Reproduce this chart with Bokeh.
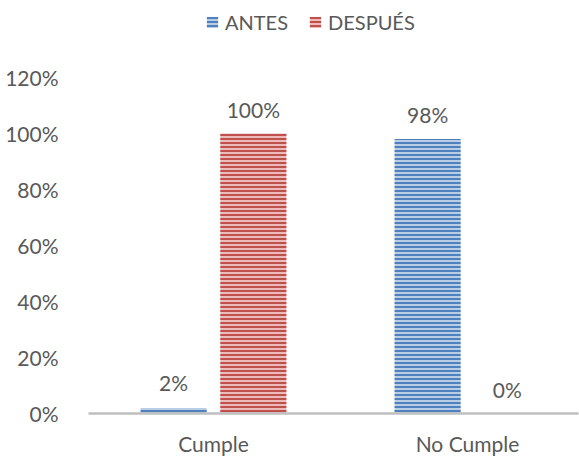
from bokeh.plotting import figure
from bokeh.models import ColumnDataSource, FixedTicker, NumeralTickFormatter, Range1d, Legend, LegendItem
from bokeh.core.properties import value
from bokeh.embed import file_html
from bokeh.resources import INLINE

categories = ["Cumple", "No Cumple"]
antes = [0.02, 0.98]
despues = [1.00, 0.00]
antes_labels = ["2%", "98%"]
despues_labels = ["100%", "0%"]
y_ticks = [0, 0.2, 0.4, 0.6, 0.8, 1.0, 1.2]

FONT = "Lato"
TXT = "#595959"
FS = "21px"

pos = [i + 0.5 for i in range(len(categories))]
off = 0.157
w = 0.26

src = ColumnDataSource(dict(
    xa=[x - off for x in pos], xd=[x + off for x in pos],
    antes=antes, despues=despues, al=antes_labels, dl=despues_labels))

p = figure(x_range=Range1d(0.008, 1.937), y_range=Range1d(0, 1.475),
           width=579, height=458, output_backend="svg", toolbar_location=None,
           min_border_left=88, min_border_right=1, min_border_top=0, min_border_bottom=45)
p.outline_line_color = None
p.xgrid.grid_line_color = None
p.ygrid.grid_line_color = None

r1 = p.vbar(x="xa", top="antes", width=w, source=src,
            fill_color="#b9cde6", line_color=None,
            hatch_pattern="horizontal_line", hatch_color="#4f81bd", hatch_scale=4, hatch_weight=2)
r2 = p.vbar(x="xd", top="despues", width=w, source=src,
            fill_color="#ecbcbb", line_color=None,
            hatch_pattern="horizontal_line", hatch_color="#c0504d", hatch_scale=4, hatch_weight=2)

p.text(x="xa", y="antes", text="al", source=src,
       text_align="center", text_baseline="middle", y_offset=-25,
       text_font=value(FONT), text_font_size=FS, text_color=TXT)
p.text(x="xd", y="despues", text="dl", source=src,
       text_align="center", text_baseline="middle", y_offset=-24,
       text_font=value(FONT), text_font_size=FS, text_color=TXT)

p.yaxis.ticker = FixedTicker(ticks=y_ticks)
p.yaxis.formatter = NumeralTickFormatter(format="0%")
p.yaxis.axis_line_color = None
p.yaxis.major_tick_line_color = None
p.yaxis.minor_tick_line_color = None
p.yaxis.major_label_standoff = 24
p.yaxis.major_label_text_font = FONT
p.yaxis.major_label_text_font_size = FS
p.yaxis.major_label_text_color = TXT

p.xaxis.ticker = FixedTicker(ticks=pos)
p.xaxis.major_label_overrides = {x: c for x, c in zip(pos, categories)}
p.xaxis.axis_line_color = "#bfbfbf"
p.xaxis.axis_line_width = 2.5
p.xaxis.major_tick_line_color = None
p.xaxis.minor_tick_line_color = None
p.xaxis.major_label_standoff = 11
p.xaxis.major_label_text_font = FONT
p.xaxis.major_label_text_font_size = FS
p.xaxis.major_label_text_color = TXT

legend = Legend(items=[LegendItem(label="ANTES", renderers=[r1]),
                       LegendItem(label="DESPUÉS", renderers=[r2])],
                location=(117, 379), orientation="horizontal",
                border_line_color=None, background_fill_alpha=0,
                label_text_font=FONT, label_text_font_size="20px", label_text_color=TXT,
                glyph_width=14, glyph_height=14, spacing=20, padding=4, margin=0,
                label_standoff=6)
p.add_layout(legend, "center")

open("out.html", "w").write(file_html(p, INLINE))
